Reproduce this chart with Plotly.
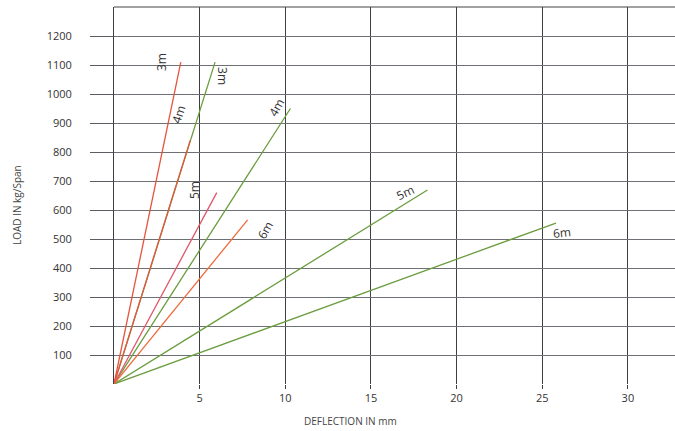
import plotly.graph_objects as go

# Deflection (mm) end points of each span line, all lines start at the origin
spans = ["3m", "4m", "5m", "6m"]
red_defl = [3.9, 4.45, 6.0, 7.8]
red_load = [1110, 840, 660, 566]
green_defl = [5.9, 10.3, 18.3, 25.8]
green_load = [1110, 950, 669, 555]

red_colors = ["#e5553e", "#e5553e", "#e0566a", "#ee6a3c"]
green_color = "#6b9d3f"

# label positions (data coords) and angles
red_lbl_x = [2.74, 3.74, 4.73, 8.8]
red_lbl_y = [1110, 931, 669, 531]
red_lbl_ang = [-90, -72, -90, -60]
green_lbl_x = [6.36, 9.5, 17.0, 26.15]
green_lbl_y = [1062, 952, 662, 521]
green_lbl_ang = [90, -60, -25, -6]

y_ticks = list(range(100, 1300, 100))
x_ticks = [5, 10, 15, 20, 25, 30]

W, H = 675, 431
L, R, T, B = 114, 0, 7, 47
pw, ph = W - L - R, H - T - B

fig = go.Figure()

# green lines first so red 4m sits on top of green 3m
for d, l in zip(green_defl, green_load):
    fig.add_trace(go.Scatter(x=[0, d], y=[0, l], mode="lines",
                             line=dict(color=green_color, width=1.3),
                             showlegend=False, hoverinfo="skip"))
for d, l, c in zip(red_defl, red_load, red_colors):
    fig.add_trace(go.Scatter(x=[0, d], y=[0, l], mode="lines",
                             line=dict(color=c, width=1.3),
                             showlegend=False, hoverinfo="skip"))

font = "Open Sans, sans-serif"
for xs, ys, angs in [(red_lbl_x, red_lbl_y, red_lbl_ang),
                     (green_lbl_x, green_lbl_y, green_lbl_ang)]:
    for s, x, y, a in zip(spans, xs, ys, angs):
        fig.add_annotation(x=x, y=y, text=s, showarrow=False, textangle=a,
                           font=dict(family=font, size=12, color="#333"))

# axis titles, placed in pixels relative to the plot area
fig.add_annotation(x=(17 - L) / pw, y=(H - B - 205) / ph,
                   xref="x domain", yref="y domain", text="LOAD IN kg/Span",
                   xanchor="center", yanchor="middle",
                   showarrow=False, textangle=-90,
                   font=dict(family=font, size=10, color="#444"))
fig.add_annotation(x=(350 - L) / pw, y=-(421 - (H - B)) / ph,
                   xref="x domain", yref="y domain", text="DEFLECTION IN mm",
                   xanchor="center", yanchor="middle",
                   showarrow=False, font=dict(family=font, size=10, color="#444"))

# top border
fig.add_shape(type="line", xref="paper", yref="paper", x0=0, x1=1, y0=1, y1=1,
              line=dict(color="#444", width=1))

fig.update_layout(
    width=W, height=H,
    margin=dict(l=L, r=R, t=T, b=B, pad=0),
    plot_bgcolor="white", paper_bgcolor="white",
    font=dict(family=font, size=11, color="#333"),
    xaxis=dict(range=[0, 32.75], tickvals=x_ticks, showgrid=True,
               gridcolor="#3d3f42", gridwidth=1, zeroline=False,
               ticks="outside", ticklen=4, tickcolor="#3d3f42",
               showline=False, automargin=False),
    yaxis=dict(range=[0, 1300], tickvals=y_ticks, showgrid=True,
               gridcolor="#6d7176", gridwidth=1, zeroline=False,
               ticks="outside", ticklen=23, tickcolor="#5a5e62",
               ticklabelstandoff=16, automargin=False,
               showline=True, linecolor="#3d3f42", linewidth=1),
)

fig.write_html("out.html", config={"displayModeBar": False},
               post_script="document.body.style.margin='0px';"
                           "document.body.style.overflow='hidden';"
                           "document.documentElement.style.overflow='hidden';")
